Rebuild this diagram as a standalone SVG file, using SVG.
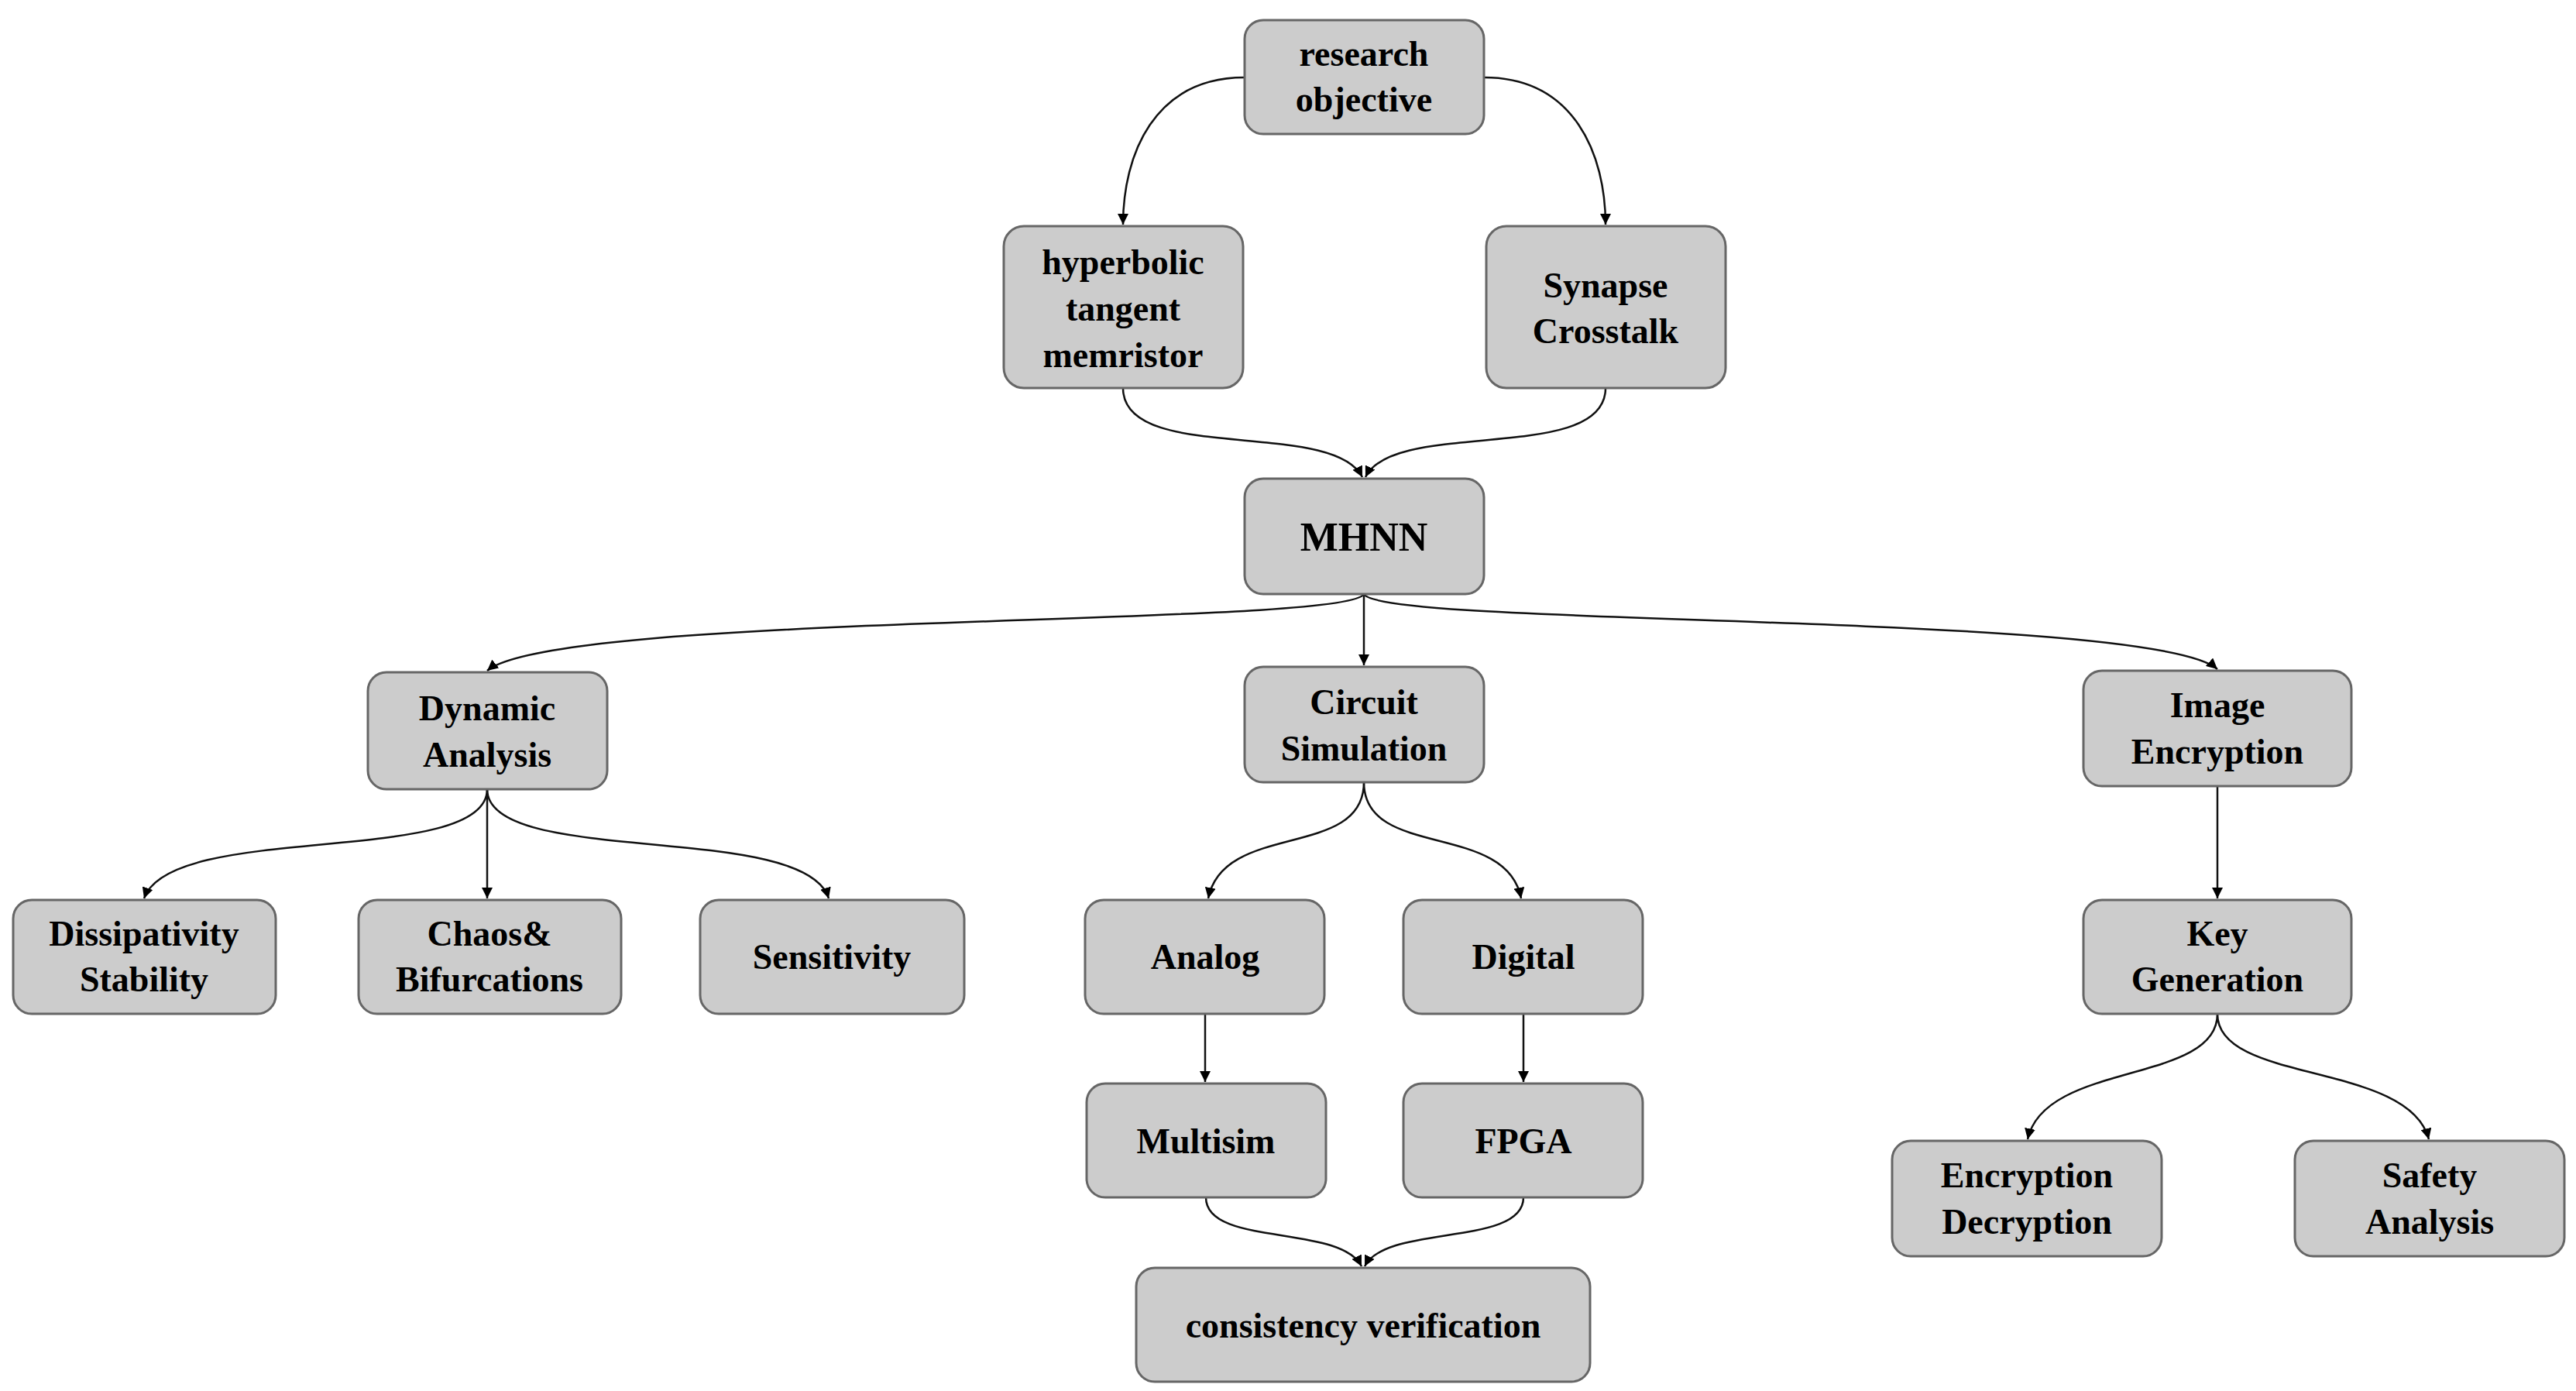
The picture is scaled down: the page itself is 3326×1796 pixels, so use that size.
<svg xmlns="http://www.w3.org/2000/svg" width="3326" height="1796" viewBox="0 0 3326 1796">
<style>
.n rect{fill:#cccccc;stroke:#666666;stroke-width:3}
.n text{font-family:"Liberation Serif","Times New Roman",serif;font-weight:bold;font-size:46px;fill:#000;text-anchor:middle}
#c path{fill:none;stroke:#111;stroke-width:2.5;marker-end:url(#ah)}
</style>
<defs><marker id="ah" viewBox="0 0 10 10" refX="10" refY="5" markerWidth="14" markerHeight="14" markerUnits="userSpaceOnUse" orient="auto"><path d="M0,0 L10,5 L0,10 z" fill="#000"/></marker></defs>
<rect width="3326" height="1796" fill="#fff"/>
<g id="c">
<path d="M1607,100 C1490,100 1450,200 1450,290"/>
<path d="M1916,100 C2033,100 2073,200 2073,290"/>
<path d="M1450,501 C1450,600 1720,540 1759,616"/>
<path d="M2073,501 C2073,600 1800,540 1763,616"/>
<path d="M1761,767 C1740,810 720,790 629,866"/>
<path d="M1761,767 L1761,859"/>
<path d="M1761,767 C1782,810 2780,790 2863,864"/>
<path d="M629,1019 C629,1120 220,1060 186,1160"/>
<path d="M629,1019 L629,1160"/>
<path d="M629,1019 C629,1120 1040,1060 1070,1160"/>
<path d="M1761,1010 C1761,1110 1580,1060 1560,1160"/>
<path d="M1761,1010 C1761,1110 1945,1060 1964,1160"/>
<path d="M1556,1309 L1556,1397"/>
<path d="M1967,1309 L1967,1397"/>
<path d="M1557,1546 C1557,1610 1730,1580 1758,1635"/>
<path d="M1967,1546 C1967,1610 1790,1580 1762,1635"/>
<path d="M2863,1015 L2863,1160"/>
<path d="M2863,1309 C2863,1400 2640,1370 2618,1471"/>
<path d="M2863,1309 C2863,1400 3110,1370 3136,1471"/>
</g>
<g id="research" class="n"><rect x="1607" y="26" width="309" height="147" rx="24"/><text x="1761" y="85">research</text><text x="1761" y="144">objective</text></g>
<g id="hyperbolic" class="n"><rect x="1296" y="292" width="309" height="209" rx="26"/><text x="1450" y="354">hyperbolic</text><text x="1450" y="414">tangent</text><text x="1450" y="474">memristor</text></g>
<g id="synapse" class="n"><rect x="1919" y="292" width="309" height="209" rx="26"/><text x="2073" y="384">Synapse</text><text x="2073" y="443">Crosstalk</text></g>
<g id="mhnn" class="n"><rect x="1607" y="618" width="309" height="149" rx="24"/><text x="1761" y="711" style="font-size:52px">MHNN</text></g>
<g id="dynamic" class="n"><rect x="475" y="868" width="309" height="151" rx="24"/><text x="629" y="930">Dynamic</text><text x="629" y="990">Analysis</text></g>
<g id="circuit" class="n"><rect x="1607" y="861" width="309" height="149" rx="24"/><text x="1761" y="922">Circuit</text><text x="1761" y="982">Simulation</text></g>
<g id="image" class="n"><rect x="2690" y="866" width="346" height="149" rx="24"/><text x="2863" y="926">Image</text><text x="2863" y="986">Encryption</text></g>
<g id="dissipativity" class="n"><rect x="17" y="1162" width="339" height="147" rx="24"/><text x="186" y="1221">Dissipativity</text><text x="186" y="1280">Stability</text></g>
<g id="chaos" class="n"><rect x="463" y="1162" width="339" height="147" rx="24"/><text x="632" y="1221">Chaos&amp;</text><text x="632" y="1280">Bifurcations</text></g>
<g id="sensitivity" class="n"><rect x="904" y="1162" width="341" height="147" rx="24"/><text x="1074" y="1251">Sensitivity</text></g>
<g id="analog" class="n"><rect x="1401" y="1162" width="309" height="147" rx="24"/><text x="1556" y="1251">Analog</text></g>
<g id="digital" class="n"><rect x="1812" y="1162" width="309" height="147" rx="24"/><text x="1967" y="1251">Digital</text></g>
<g id="multisim" class="n"><rect x="1403" y="1399" width="309" height="147" rx="24"/><text x="1557" y="1489">Multisim</text></g>
<g id="fpga" class="n"><rect x="1812" y="1399" width="309" height="147" rx="24"/><text x="1967" y="1489">FPGA</text></g>
<g id="consistency" class="n"><rect x="1467" y="1637" width="586" height="147" rx="24"/><text x="1760" y="1727">consistency verification</text></g>
<g id="keygen" class="n"><rect x="2690" y="1162" width="346" height="147" rx="24"/><text x="2863" y="1221">Key</text><text x="2863" y="1280">Generation</text></g>
<g id="encdec" class="n"><rect x="2443" y="1473" width="348" height="149" rx="24"/><text x="2617" y="1533">Encryption</text><text x="2617" y="1593">Decryption</text></g>
<g id="safety" class="n"><rect x="2963" y="1473" width="348" height="149" rx="24"/><text x="3137" y="1533">Safety</text><text x="3137" y="1593">Analysis</text></g>
</svg>
